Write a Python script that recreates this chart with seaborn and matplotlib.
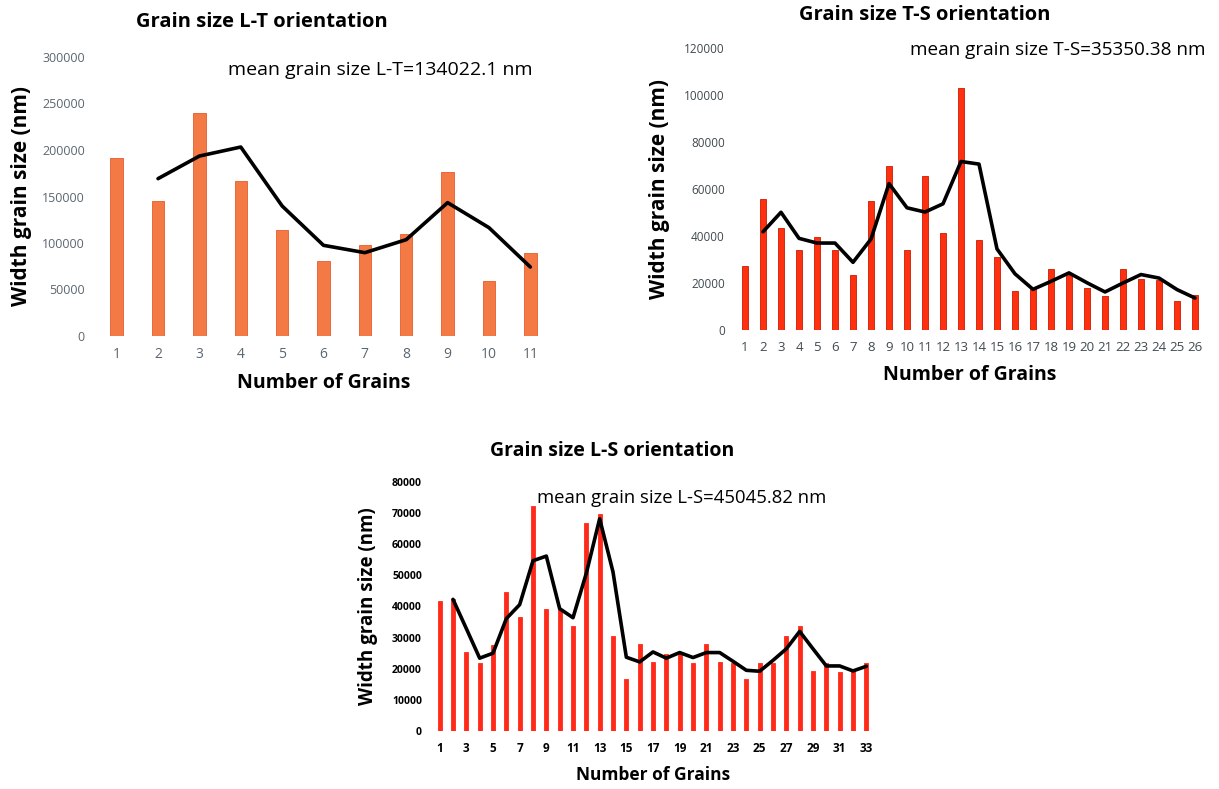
import matplotlib
matplotlib.use("Agg")
import matplotlib.pyplot as plt
import seaborn as sns

# L-T orientation
lt_grains = list(range(1, 12))
lt_size = [191400, 145500, 240100, 166300, 113600, 81000, 97800, 110000, 176000, 58800, 89600]
lt_trend = [169200, 193500, 203200, 139800, 97500, 89600, 103600, 143400, 116500, 74200]

# T-S orientation
ts_grains = list(range(1, 27))
ts_size = [27400, 55800, 43600, 34200, 39700, 34200, 23500, 54900, 69900, 33900,
           65500, 41200, 103100, 38100, 31100, 16500, 17500, 26000, 24000, 18000,
           14600, 25900, 21500, 21100, 12400, 14800]
ts_trend = [41800, 50100, 39000, 37000, 37000, 28800, 38700, 62300, 52000, 50200,
            53700, 71700, 70600, 34500, 23900, 17300, 20700, 24300, 20100, 16200,
            20000, 23600, 22100, 17200, 13600]

# L-S orientation
ls_grains = list(range(1, 34))
ls_size = [41900, 42300, 25300, 21800, 27700, 44600, 36600, 72400, 39100, 39100,
           33600, 66800, 69700, 30600, 16700, 27800, 22300, 24700, 25000, 22000,
           27900, 22300, 22000, 16800, 21900, 22000, 30600, 33600, 19300, 21900,
           19100, 19200, 21900]
ls_trend = [42300, 32900, 23400, 25000, 36100, 40600, 54700, 56200, 39300, 36400,
            50700, 68200, 51100, 23700, 22200, 25400, 23400, 25200, 23600, 25200,
            25200, 22400, 19500, 19200, 22700, 26400, 32000, 26400, 20900, 20900,
            19300, 20800]

sns.set_style("white")
plt.rcParams['font.family'] = ['Open Sans', 'DejaVu Sans']
plt.rcParams['text.color'] = 'black'
plt.rcParams['axes.labelcolor'] = 'black'

W, H = 1219, 789
fig = plt.figure(figsize=(W / 100, H / 100), dpi=100)


def make_axes(left, right, top, bottom):
    return fig.add_axes([left / W, 1 - bottom / H, (right - left) / W, (bottom - top) / H])


def draw(ax, grains, size, trend, color, edge, width, ymax, ystep, tick_color, tick_bold,
         tick_size, label_size, note, note_xy, note_size, xtick_step=1, ypad=10):
    sns.barplot(x=grains, y=size, ax=ax, native_scale=True, width=width,
                color=color, edgecolor=edge, linewidth=0.6, saturation=1)
    sns.lineplot(x=grains[1:], y=trend, ax=ax, color='black', linewidth=2.6)
    ax.set_xlim(0.5, len(grains) + 0.5)
    ax.set_ylim(0, ymax)
    ax.set_yticks(range(0, ymax + 1, ystep))
    ax.set_xticks(grains[::xtick_step])
    w = 'bold' if tick_bold else 'normal'
    ax.set_xticklabels([str(g) for g in grains[::xtick_step]], color=tick_color,
                       fontsize=tick_size, fontweight=w)
    ax.set_yticklabels([str(v) for v in range(0, ymax + 1, ystep)], color=tick_color,
                       fontsize=tick_size - 1, fontweight=w)
    ax.tick_params(length=0, pad=8)
    sns.despine(ax=ax, left=True, bottom=True)
    ax.set_xlabel('Number of Grains', fontsize=label_size - 1, fontweight='bold', labelpad=8)
    ax.set_ylabel('Width grain size (nm)', fontsize=label_size, fontweight='bold', labelpad=ypad)
    ax.text(note_xy[0], note_xy[1], note, transform=fig.transFigure, fontsize=note_size,
            ha='left', va='center')
    ax.grid(False)


ax1 = make_axes(96, 551, 57, 336)
draw(ax1, lt_grains, lt_size, lt_trend, '#F47A45', '#E85A2C', 0.3, 300000, 50000,
     '#5A6670', False, 10, 15, 'mean grain size L-T=134022.1 nm', (228 / W, 1 - 70 / H), 14,
     ypad=7)
fig.text(262 / W, 1 - 22 / H, 'Grain size L-T orientation', ha='center', va='center',
         fontsize=14.5, fontweight='bold')

ax2 = make_axes(736, 1204, 48, 330)
draw(ax2, ts_grains, ts_size, ts_trend, '#FF3010', '#C81E00', 0.3, 120000, 20000,
     '#3F4A50', False, 9.5, 15, 'mean grain size T-S=35350.38 nm', (910 / W, 1 - 50 / H), 13.6)
fig.text(925 / W, 1 - 15 / H, 'Grain size T-S orientation', ha='center', va='center',
         fontsize=14.5, fontweight='bold')

ax3 = make_axes(433, 873, 482, 731)
draw(ax3, ls_grains, ls_size, ls_trend, '#FF2A1A', '#FF2A1A', 0.3, 80000, 10000,
     'black', True, 8.5, 13.5, 'mean grain size L-S=45045.82 nm', (537 / W, 1 - 498 / H), 13.3,
     xtick_step=2)
fig.text(612 / W, 1 - 451 / H, 'Grain size L-S orientation', ha='center', va='center',
         fontsize=14, fontweight='bold')

fig.savefig('out.png', dpi=100)
